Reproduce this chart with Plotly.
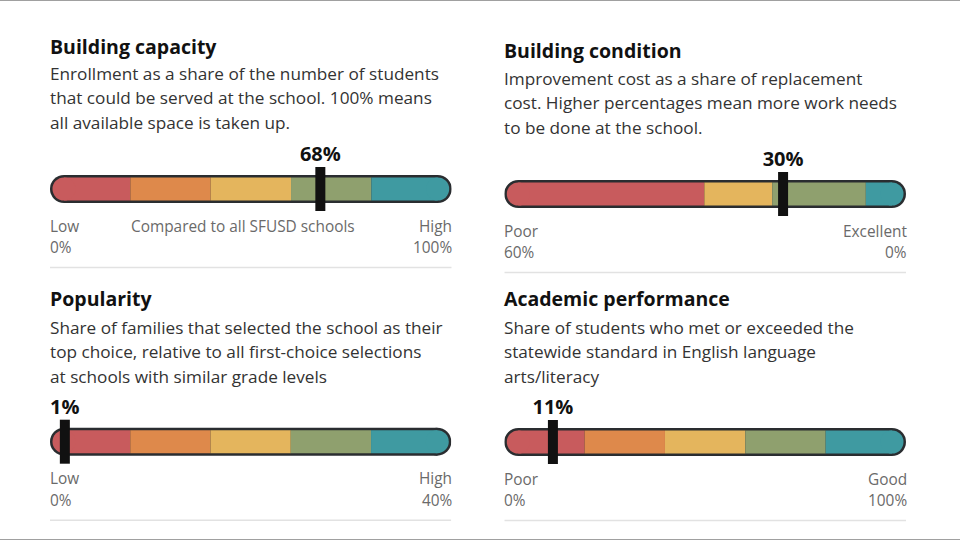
import plotly.graph_objects as go

# ---------------- data ----------------
titles = ["Building capacity", "Building condition", "Popularity", "Academic performance"]
descriptions = [
    ["Enrollment as a share of the number of students",
     "that could be served at the school. 100% means",
     "all available space is taken up."],
    ["Improvement cost as a share of replacement",
     "cost. Higher percentages mean more work needs",
     "to be done at the school."],
    ["Share of families that selected the school as their",
     "top choice, relative to all first-choice selections",
     "at schools with similar grade levels"],
    ["Share of students who met or exceeded the",
     "statewide standard in English language",
     "arts/literacy"],
]
value_labels = ["68%", "30%", "1%", "11%"]
# marker position along each gauge (percent of gauge length)
marker_pos = [67.3, 69.4, 3.7, 12.1]
# segment boundaries along each gauge (percent of gauge length)
segment_bounds = [
    [0, 20, 40, 60, 80, 100],
    [0, 49.8, 66.7, 90.0, 100],
    [0, 20, 40, 60, 80, 100],
    [0, 20, 40, 60, 80, 100],
]
RED, ORANGE, YELLOW, GREEN, TEAL = "#c85b5d", "#de894b", "#e4b55d", "#8fa06e", "#3f9aa1"
segment_colors = [
    [RED, ORANGE, YELLOW, GREEN, TEAL],
    [RED, YELLOW, GREEN, TEAL],
    [RED, ORANGE, YELLOW, GREEN, TEAL],
    [RED, ORANGE, YELLOW, GREEN, TEAL],
]
left_names = ["Low", "Poor", "Low", "Poor"]
left_values = ["0%", "60%", "0%", "0%"]
right_names = ["High", "Excellent", "High", "Good"]
right_values = ["100%", "0%", "40%", "100%"]
middle_notes = ["Compared to all SFUSD schools", "", "", ""]

# ---------------- layout constants (pixels) ----------------
W, H = 960, 540
panel_x = [(50, 451.7), (504.3, 906), (50, 451.3), (504.3, 906)]
title_y = [46, 50.5, 298, 298]
desc_y0 = [73, 78, 327, 327]
bar_y = [189, 194, 441.7, 442]
LINE_GAP = 24.5
R_OUT, R_IN = 14, 11.5
FONT = "Open Sans"
OUTLINE = "#2a2d30"
PAD = 2.5

fig = go.Figure()
shapes, annotations = [], []

def text(xa, x, y, s, font, anchor="left"):
    annotations.append(dict(xref=xa, yref="y", x=x, y=y, text=s, showarrow=False,
                            xanchor=anchor, yanchor="middle", font=font,
                            xshift=-PAD if anchor == "left" else PAD))

layout_axes = {}
for i in range(4):
    xa = "x" if i == 0 else f"x{i+1}"
    xkey = "xaxis" if i == 0 else f"xaxis{i+1}"
    x0p, x1p = panel_x[i]
    layout_axes[xkey] = dict(domain=[x0p / W, x1p / W], range=[0, 100], visible=False,
                             fixedrange=True, anchor="y")
    k = 100.0 / (x1p - x0p)          # data units per pixel
    r = R_OUT * k
    yc = bar_y[i]

    # outline capsule
    shapes.append(dict(type="rect", xref=xa, yref="y", x0=r, x1=100 - r,
                       y0=yc - R_OUT, y1=yc + R_OUT, fillcolor=OUTLINE, line_width=0))
    for cx in (r, 100 - r):
        shapes.append(dict(type="circle", xref=xa, yref="y", xsizemode="pixel", xanchor=cx,
                           x0=-R_OUT, x1=R_OUT, y0=yc - R_OUT, y1=yc + R_OUT,
                           fillcolor=OUTLINE, line_width=0))
    # colored segments
    b = segment_bounds[i]
    cols = segment_colors[i]
    n = len(cols)
    for j in range(n):
        s0 = max(b[j], r)
        s1 = min(b[j + 1], 100 - r)
        shapes.append(dict(type="rect", xref=xa, yref="y", x0=s0, x1=s1,
                           y0=yc - R_IN, y1=yc + R_IN, fillcolor=cols[j], line_width=0))
    for cx, col in ((r, cols[0]), (100 - r, cols[-1])):
        shapes.append(dict(type="circle", xref=xa, yref="y", xsizemode="pixel", xanchor=cx,
                           x0=-R_IN, x1=R_IN, y0=yc - R_IN, y1=yc + R_IN,
                           fillcolor=col, line_width=0))
    # marker
    shapes.append(dict(type="rect", xref=xa, yref="y", xsizemode="pixel", xanchor=marker_pos[i],
                       x0=-5, x1=5, y0=yc - 22, y1=yc + 22, fillcolor="#111111", line_width=0))
    # value label
    fig.add_trace(go.Scatter(x=[marker_pos[i]], y=[yc - 33], mode="text", text=[value_labels[i]],
                             textposition="middle center", xaxis=xa, yaxis="y",
                             textfont=dict(family=FONT, size=20, color="#111111", weight="bold"),
                             hoverinfo="skip", showlegend=False))
    # separator
    shapes.append(dict(type="line", xref=xa, yref="y", x0=0, x1=100, y0=yc + 78.5, y1=yc + 78.5,
                       line=dict(color="#e2e2e2", width=1.5)))

    # title + description
    text(xa, 0, title_y[i], titles[i], dict(family=FONT, size=19.5, color="#111111", weight="bold"))
    for li, line in enumerate(descriptions[i]):
        text(xa, 0, desc_y0[i] + li * LINE_GAP, line, dict(family=FONT, size=17.2, color="#333333"))
    cap = dict(family=FONT, size=15.4, color="#6a6a6a")
    text(xa, 0, yc + 37, left_names[i], cap)
    text(xa, 0, yc + 58.5, left_values[i], cap)
    text(xa, 100, yc + 37, right_names[i], cap, "right")
    text(xa, 100, yc + 58.5, right_values[i], cap, "right")
    if middle_notes[i]:
        text(xa, b[1] + 0.3, yc + 37, middle_notes[i], cap)

# page borders
shapes.append(dict(type="line", xref="paper", yref="paper", x0=0, x1=1, y0=1, y1=1,
                   line=dict(color="#a0a0a0", width=2)))
shapes.append(dict(type="line", xref="paper", yref="paper", x0=0, x1=1, y0=0, y1=0,
                   line=dict(color="#a0a0a0", width=2)))

fig.update_layout(
    width=W, height=H, margin=dict(l=0, r=0, t=0, b=0),
    paper_bgcolor="white", plot_bgcolor="rgba(0,0,0,0)",
    yaxis=dict(domain=[0, 1], range=[H, 0], visible=False, fixedrange=True, anchor="x"),
    shapes=shapes, annotations=annotations, showlegend=False,
    **layout_axes,
)

fig.write_html("out.html", config={"displayModeBar": False})
